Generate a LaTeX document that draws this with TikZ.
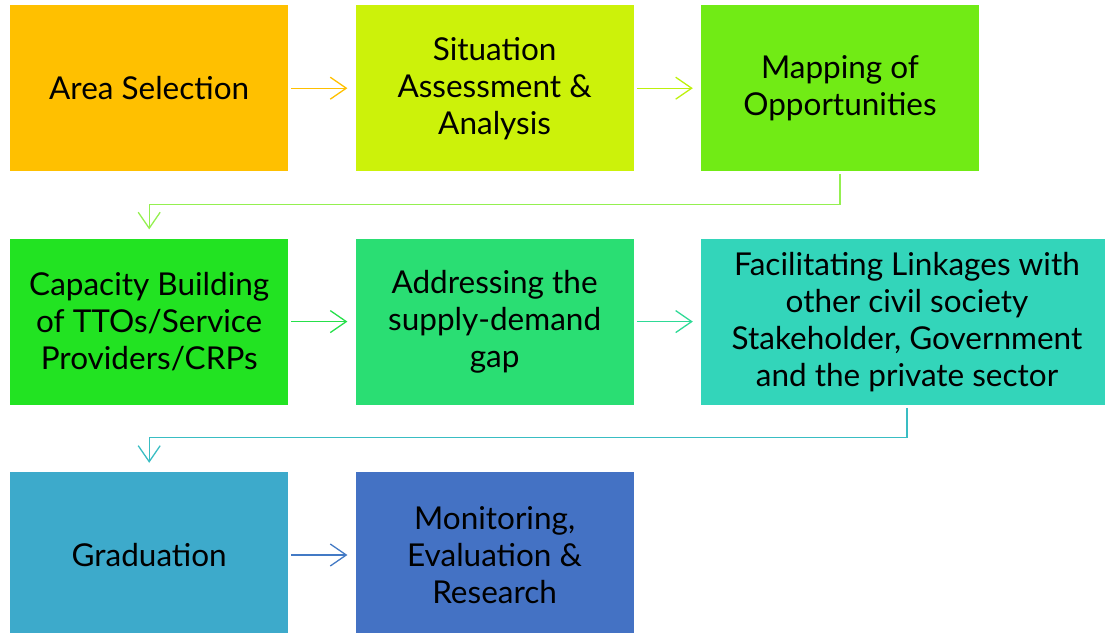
\documentclass[tikz,border=0pt]{standalone}
\usepackage{fontspec}
\setmainfont{Lato}
\usepackage{xcolor}
\usepackage{tikz}
\usetikzlibrary{arrows.meta,positioning}

\definecolor{cArea}{HTML}{FFC000}
\definecolor{cSit}{HTML}{CCF20A}
\definecolor{cMap}{HTML}{71EB15}
\definecolor{cCap}{HTML}{22E322}
\definecolor{cGap}{HTML}{2ADE73}
\definecolor{cLink}{HTML}{33D5BA}
\definecolor{cGrad}{HTML}{3DAACB}
\definecolor{cMon}{HTML}{4472C4}

\begin{document}
\begin{tikzpicture}[
  stage/.style={rectangle, minimum width=278pt, minimum height=166pt,
    inner sep=0pt, align=center, text=black,
    font=\fontsize{31.5}{37}\selectfont},
  arrow/.style={line width=1.3pt, -{Straight Barb[length=16pt,width=22pt,line width=1.3pt]}},
]
\useasboundingbox (0,0) rectangle (1105pt,-632pt);
% first row
\node[stage, fill=cArea, anchor=north west] (area) at (10pt,-5pt) {Area Selection};
\node[stage, fill=cSit, right=67pt of area] (sit) {Situation\\Assessment \&\\Analysis};
\node[stage, fill=cMap, right=67pt of sit] (map) {Mapping of\\Opportunities};
% second row
\node[stage, fill=cCap, below=67pt of area] (cap) {Capacity Building\\of TTOs/Service\\Providers/CRPs};
\node[stage, fill=cGap, right=67pt of cap] (gap) {Addressing the\\supply-demand\\gap};
\node[stage, fill=cLink, minimum width=412pt, right=67pt of gap] (link) {Facilitating Linkages with\\other civil society\\Stakeholder, Government\\and the private sector};
% third row
\node[stage, fill=cGrad, below=67pt of cap] (grad) {Graduation};
\node[stage, fill=cMon, right=67pt of grad] (mon) {Monitoring,\\Evaluation \&\\Research};

% connectors, tinted between the two stages they join
\draw[arrow, cArea, shorten <=3pt, shorten >=8pt] (area) -- (sit);
\draw[arrow, cSit!85!cMap, shorten <=3pt, shorten >=8pt] (sit) -- (map);
\draw[arrow, cMap!75!white, shorten <=3pt, shorten >=9pt] (map.south) -- ++(0,-33pt) -| (cap.north);
\draw[arrow, cCap!50!cGap, shorten <=3pt, shorten >=8pt] (cap) -- (gap);
\draw[arrow, cGap!50!cLink, shorten <=3pt, shorten >=8pt] (gap) -- (link);
\draw[arrow, cLink!45!cGrad, shorten <=3pt, shorten >=9pt] (link.south) -- ++(0,-33pt) -| (grad.north);
\draw[arrow, cMon!85!cGrad, shorten <=3pt, shorten >=8pt] (grad) -- (mon);
\end{tikzpicture}
\end{document}
